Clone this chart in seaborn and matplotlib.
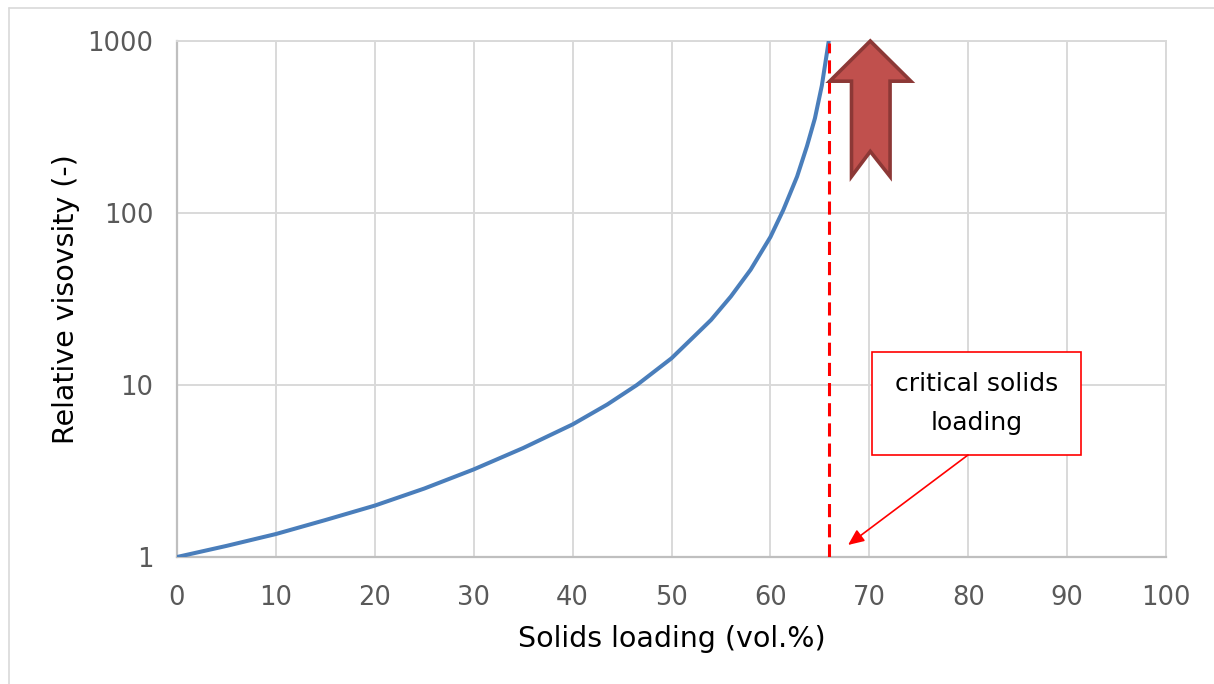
import matplotlib
matplotlib.use("Agg")
import matplotlib.pyplot as plt
import seaborn as sns
import pandas as pd
from matplotlib.patches import Polygon, Rectangle
from matplotlib.lines import Line2D
from matplotlib.ticker import FixedLocator, LogLocator, NullFormatter

# ---------------- data ----------------
solids_loading = [0, 5, 10, 15, 20, 25, 30, 35, 40, 43.5, 46.5, 50, 52.5, 54,
                  56, 58, 60, 61.3, 62.7, 63.7, 64.5, 65.2, 65.9]
relative_viscosity = [1.0, 1.16, 1.36, 1.64, 1.99, 2.50, 3.23, 4.3, 5.9, 7.7,
                      10.0, 14.3, 19.7, 23.9, 32.7, 46.8, 72.5, 104, 163, 245,
                      355, 550, 1000]
critical_loading = 65.9
x_ticks = [0, 10, 20, 30, 40, 50, 60, 70, 80, 90, 100]
y_ticks = [1, 10, 100, 1000]
y_tick_labels = ["1", "10", "100", "1000"]
box_text = "critical solids\nloading"
x_label = "Solids loading (vol.%)"
y_label = "Relative visovsity (-)"

df = pd.DataFrame({"x": solids_loading, "y": relative_viscosity})

# ---------------- styling ----------------
sns.set_theme(style="white")
plt.rcParams["font.family"] = ["DejaVu Sans"]

W, H = 1214, 684
fig = plt.figure(figsize=(W / 100, H / 100), dpi=100)
ax = fig.add_axes([177 / W, 1 - 557 / H, (1166 - 177) / W, (557 - 41) / H])

grid_c = "#D9D9D9"
spine_c = "#BFBFBF"
tick_c = "#595959"

sns.lineplot(data=df, x="x", y="y", ax=ax, color="#4A7EBB", linewidth=2.9,
             zorder=4)
ax.set_yscale("log")
ax.set_xlim(0, 100)
ax.set_ylim(1, 1000)

ax.xaxis.set_major_locator(FixedLocator(x_ticks))
ax.xaxis.set_minor_locator(FixedLocator([v + 5 for v in x_ticks[:-1]]))
ax.yaxis.set_major_locator(FixedLocator(y_ticks))
ax.set_yticklabels(y_tick_labels)
ax.yaxis.set_minor_locator(LogLocator(base=10, subs=range(2, 10)))
ax.yaxis.set_minor_formatter(NullFormatter())

ax.grid(True, which="major", color=grid_c, linewidth=1.4)
ax.set_axisbelow(True)

for side in ["left", "bottom"]:
    ax.spines[side].set_color(spine_c)
    ax.spines[side].set_linewidth(1.6)
for side in ["top", "right"]:
    ax.spines[side].set_color(grid_c)
    ax.spines[side].set_linewidth(1.4)

ax.tick_params(axis="both", which="major", length=0, labelsize=18.5,
               labelcolor=tick_c)
ax.tick_params(axis="x", which="major", pad=20)
ax.tick_params(axis="y", which="major", pad=17)
ax.tick_params(axis="both", which="minor", direction="in", length=5,
               width=1.4, color=spine_c)

ax.set_xlabel(x_label, fontsize=20.5, color="black", labelpad=10)
ax.set_ylabel(y_label, fontsize=20.5, color="black", labelpad=5)

# critical solids loading line
ax.axvline(critical_loading, ymin=0, ymax=0.996, color="#FF0000",
           linewidth=2.2, dashes=(4.3, 2.3), zorder=5)

# big block arrow (in data coordinates of the axes)
arrow_pts = [(70.1, 1000), (74.2, 584), (72.1, 584), (72.1, 163),
             (70.1, 228), (68.2, 163), (68.2, 584), (66.0, 584)]
ax.add_patch(Polygon(arrow_pts, closed=True, facecolor="#C0504D",
                     edgecolor="#8C3836", linewidth=2.6, joinstyle="miter",
                     clip_on=False, zorder=6))

# callout box
ax.add_patch(Rectangle((0.7027, 0.1977), 0.2113, 0.1996, transform=ax.transAxes,
                       facecolor="white", edgecolor="#FF0000", linewidth=1.2,
                       zorder=7))
ax.text(0.8083, 0.2975, box_text, transform=ax.transAxes, ha="center",
        va="center", fontsize=18, linespacing=1.75, color="black", zorder=8)
ax.annotate("", xy=(0.6785, 0.0233), xycoords="axes fraction",
            xytext=(0.7998, 0.1977), textcoords="axes fraction",
            arrowprops=dict(arrowstyle="-|>,head_length=0.8,head_width=0.35",
                            color="#FF0000", lw=1.2, shrinkA=0, shrinkB=0),
            zorder=8)

# outer chart border (left and top visible)
fig.add_artist(Line2D([9 / W, 9 / W], [0, 1 - 8 / H], transform=fig.transFigure,
                      color=grid_c, linewidth=1.2))
fig.add_artist(Line2D([9 / W, 1], [1 - 8 / H, 1 - 8 / H],
                      transform=fig.transFigure, color=grid_c, linewidth=1.2))

fig.savefig("out.png", dpi=100, facecolor="white")
